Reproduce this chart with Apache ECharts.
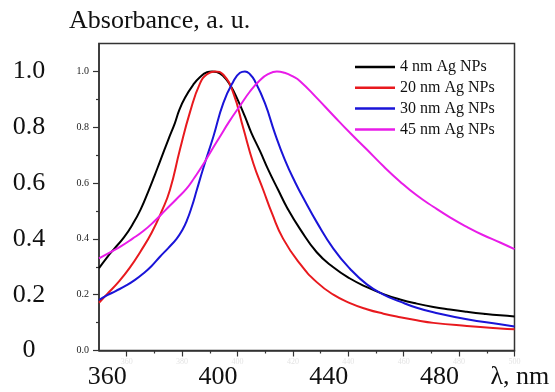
<!DOCTYPE html>
<html><head><meta charset="utf-8">
<script src="https://cdn.jsdelivr.net/npm/echarts@6/dist/echarts.min.js"></script>
<style>html,body{margin:0;padding:0;background:#fff}#c{width:555px;height:392px}</style>
</head><body><div id="c"></div>
<script>
const seriesNames = ['4 nm Ag NPs', '20 nm Ag NPs', '30 nm Ag NPs', '45 nm Ag NPs'];
const seriesColors = ['#000000', '#e8191e', '#1a14d8', '#e81ce8'];

const ag4 = [[350,0.295],[353,0.335],[356,0.37],[359,0.405],[362,0.45],[365,0.505],[368,0.575],[370,0.625],[372,0.677],[375,0.755],[377.4,0.815],[379,0.862],[381,0.905],[384,0.952],[386.5,0.98],[389,0.997],[390.8,1.0],[392.5,0.998],[395,0.982],[397.3,0.952],[400,0.90],[402.7,0.838],[405,0.78],[408.1,0.715],[411,0.65],[414.7,0.575],[418,0.51],[422.6,0.435],[428.6,0.352],[434.6,0.298],[440.6,0.258],[446.7,0.227],[452.7,0.202],[458.7,0.183],[464.7,0.168],[470.7,0.156],[476.7,0.147],[482.8,0.139],[488.8,0.132],[494.8,0.126],[500,0.122]];

const ag20 = [[350,0.171],[353,0.203],[357,0.245],[361,0.295],[365,0.355],[369,0.422],[372.6,0.498],[375.6,0.575],[379.2,0.719],[382.9,0.856],[386.5,0.958],[389,0.99],[391.8,1.0],[394.9,0.988],[398.5,0.922],[402.1,0.796],[405.7,0.671],[409.3,0.575],[412.5,0.49],[416.5,0.40],[422.6,0.31],[428.6,0.245],[434.6,0.20],[440.6,0.17],[446.7,0.148],[452.7,0.132],[458.7,0.119],[464.7,0.108],[470.7,0.099],[482.8,0.088],[494.8,0.079],[500,0.076]];

const ag30 = [[350,0.181],[353,0.198],[356,0.213],[360,0.234],[363,0.253],[366,0.276],[369,0.303],[372,0.336],[375,0.367],[378,0.40],[380,0.43],[381.7,0.465],[383.5,0.515],[385.3,0.575],[387.7,0.655],[391.3,0.767],[394.9,0.887],[398.5,0.964],[400.9,0.995],[402.7,1.0],[404.5,0.99],[406.3,0.965],[409.9,0.886],[413.5,0.778],[417.1,0.683],[420.8,0.603],[424.4,0.535],[428.6,0.46],[434.6,0.365],[440.6,0.293],[446.7,0.237],[452.7,0.200],[458.7,0.175],[464.7,0.153],[470.7,0.137],[482.8,0.112],[494.8,0.094],[500,0.086]];

const ag45 = [[350,0.33],[354,0.352],[358,0.374],[362,0.40],[366,0.428],[370,0.463],[374,0.503],[378,0.543],[381.6,0.58],[384.5,0.62],[387.7,0.668],[390.5,0.715],[393.7,0.767],[397,0.82],[400.9,0.877],[404.5,0.928],[408.1,0.968],[411,0.99],[414.2,1.0],[417,0.995],[420,0.982],[422.6,0.965],[428.6,0.905],[434.6,0.842],[440.6,0.78],[446.7,0.72],[452.7,0.66],[458.7,0.605],[464.7,0.556],[470.7,0.515],[476.7,0.477],[482.8,0.443],[488.8,0.413],[494.8,0.387],[500,0.363]];

const xMajorTicks = [360, 380, 400, 420, 440, 460, 480, 500];
const xMinorTicks = [370, 390, 410, 430, 450, 470, 490];
const xBigTicks = [360, 400, 440, 480];
const xBigLabels = ['360', '400', '440', '480'];
const yMajorTicks = [0, 0.2, 0.4, 0.6, 0.8, 1.0];
const yMinorTicks = [0.1, 0.3, 0.5, 0.7, 0.9];
const yBigLabels = ['0', '0.2', '0.4', '0.6', '0.8', '1.0'];
const titleText = 'Absorbance, a. u.';
const xName = 'λ, nm';

const FONT = 'Liberation Serif';
const AX = '#333333';
const allData = [ag4, ag20, ag30, ag45];

const chart = echarts.init(document.getElementById('c'), null, {renderer: 'canvas'});
chart.setOption({
  animation: false,
  backgroundColor: '#ffffff',
  title: {
    text: titleText, left: 69, top: 8, padding: 0,
    textStyle: {fontFamily: FONT, fontSize: 26, fontWeight: 'normal', color: '#111'}
  },
  legend: {
    orient: 'vertical', left: 355, top: 59, padding: 0,
    icon: 'rect', itemWidth: 40, itemHeight: 2.5, itemGap: 4.8,
    textStyle: {fontFamily: FONT, fontSize: 16, color: '#111', lineHeight: 16},
    data: seriesNames
  },
  grid: {
    left: 99, right: 40.5, top: 43.5, bottom: 41.5,
    show: true, borderColor: AX, borderWidth: 1.5, backgroundColor: 'transparent'
  },
  xAxis: [
    {
      type: 'value', min: 350, max: 500, position: 'bottom',
      axisLine: {show: true, onZero: false, lineStyle: {color: AX, width: 1.5}},
      axisTick: {show: true, inside: false, length: 6, customValues: xMajorTicks, lineStyle: {color: AX, width: 1.2}},
      axisLabel: {show: true, customValues: xMajorTicks, margin: 7, fontSize: 8, fontFamily: FONT, color: '#e4e4e4'},
      splitLine: {show: false}
    },
    {
      type: 'value', min: 350, max: 500, position: 'bottom',
      name: xName, nameLocation: 'end', nameGap: -24,
      nameTextStyle: {fontFamily: FONT, fontSize: 26, color: '#111', align: 'left', verticalAlign: 'top', padding: [14, 0, 0, 0]},
      axisLine: {show: false},
      axisTick: {show: true, inside: false, length: 3, customValues: xMinorTicks, lineStyle: {color: AX, width: 1.2}},
      axisLabel: {
        show: true, customValues: xBigTicks, margin: 14, align: 'right',
        fontSize: 26, fontFamily: FONT, color: '#111',
        formatter: v => xBigLabels[xBigTicks.indexOf(v)] ?? ''
      },
      splitLine: {show: false}
    }
  ],
  yAxis: [
    {
      type: 'value', min: 0, max: 1.1, position: 'left',
      axisLine: {show: true, onZero: false, lineStyle: {color: AX, width: 1.5}},
      axisTick: {show: true, inside: false, length: 6, customValues: yMajorTicks, lineStyle: {color: AX, width: 1.2}},
      axisLabel: {show: true, customValues: yMajorTicks, margin: 10, fontSize: 10, fontFamily: FONT, color: '#222',
        formatter: v => v.toFixed(1)},
      splitLine: {show: false}
    },
    {
      type: 'value', min: 0, max: 1.1, position: 'left',
      axisLine: {show: false},
      axisTick: {show: true, inside: false, length: 3, customValues: yMinorTicks, lineStyle: {color: AX, width: 1.2}},
      axisLabel: {
        show: true, customValues: yMajorTicks, margin: 70, align: 'center',
        fontSize: 26, fontFamily: FONT, color: '#111', padding: [0, 0, 8, 0],
        formatter: v => yBigLabels[yMajorTicks.findIndex(t => Math.abs(t - v) < 1e-6)] ?? ''
      },
      splitLine: {show: false}
    }
  ],
  series: seriesNames.map((name, i) => ({
    name: name, type: 'line', xAxisIndex: 0, yAxisIndex: 0,
    data: allData[i], showSymbol: false, symbol: 'none',
    smooth: 0.5,
    lineStyle: {color: seriesColors[i], width: 2},
    itemStyle: {color: seriesColors[i]}
  }))
});
</script></body></html>
